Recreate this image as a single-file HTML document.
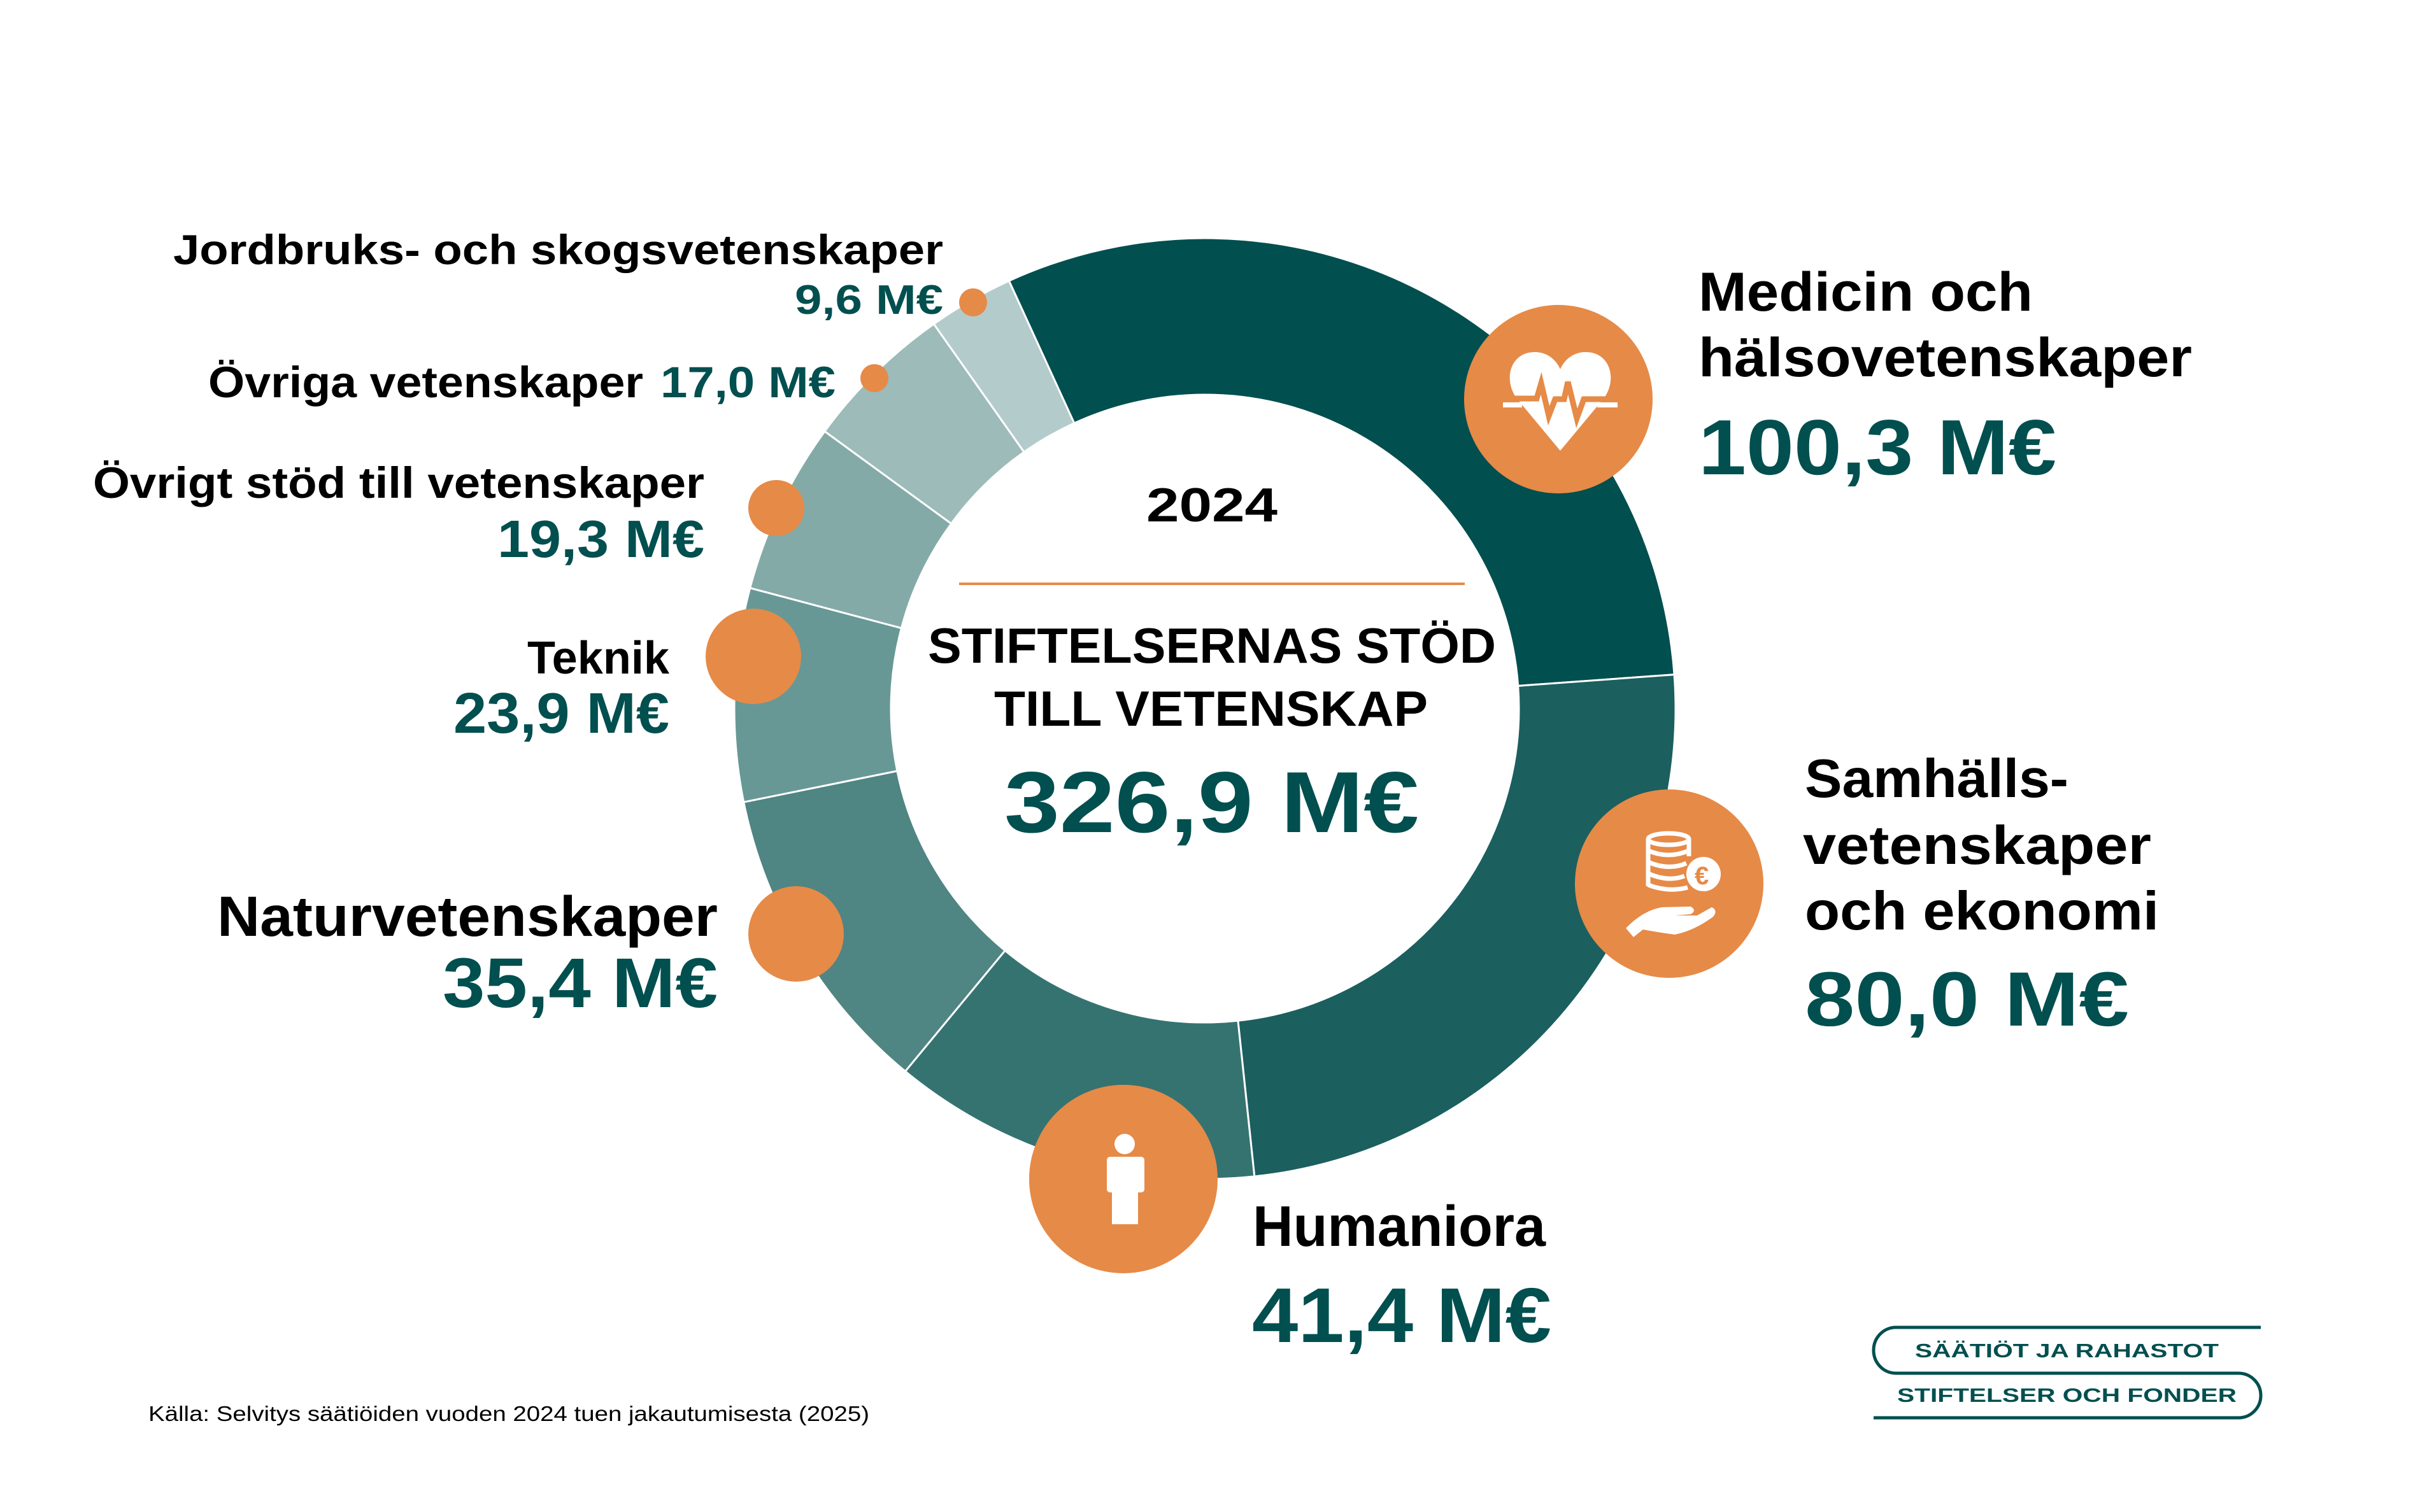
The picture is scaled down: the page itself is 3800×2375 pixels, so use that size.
<!DOCTYPE html>
<html><head><meta charset="utf-8"><style>
html,body{margin:0;padding:0;background:#fff}
svg{display:block}
text{font-family:"Liberation Sans",sans-serif;font-weight:bold}
.k{fill:#000}.t{fill:#024f4f}
</style></head><body>
<svg id="s" width="3800" height="2375" viewBox="0 0 3800 2375" xmlns="http://www.w3.org/2000/svg">
<rect width="3800" height="2375" fill="#fff"/>
<g id="donut"></g>
<!-- center -->
<text class="k" x="1800" y="819" font-size="75" textLength="206" lengthAdjust="spacingAndGlyphs">2024</text>
<line x1="1506" y1="917" x2="2300" y2="917" stroke="#e68a47" stroke-width="4"/>
<text class="k" x="1457" y="1041" font-size="78" textLength="892" lengthAdjust="spacingAndGlyphs">STIFTELSERNAS STÖD</text>
<text class="k" x="1561" y="1140" font-size="78" textLength="681" lengthAdjust="spacingAndGlyphs">TILL VETENSKAP</text>
<text class="t" x="1577" y="1307" font-size="136" textLength="651" lengthAdjust="spacingAndGlyphs">326,9 M€</text>
<!-- orange circles -->
<g fill="#e68a47">
<circle cx="2447" cy="627" r="148"/>
<circle cx="2621" cy="1388" r="148"/>
<circle cx="1764" cy="1852" r="148"/>
<circle cx="1250" cy="1467" r="75"/>
<circle cx="1183" cy="1031" r="75"/>
<circle cx="1219" cy="798" r="44"/>
<circle cx="1373" cy="594" r="22"/>
<circle cx="1528" cy="475" r="22"/>
</g>
<!-- heart icon -->
<path d="M2450 708 L2381 625 C2360 595 2372 553 2410 553 C2432 553 2445 568 2450 580 C2455 568 2468 553 2490 553 C2528 553 2540 595 2519 625 Z" fill="#fff"/>
<polyline points="2372,626 2413,626 2420,602 2432,653 2442,627 2456,627 2462,600 2476,657 2487,627 2528,627" fill="none" stroke="#e68a47" stroke-width="9"/>
<rect x="2360" y="632" width="30" height="8" fill="#fff"/>
<rect x="2508" y="632" width="32" height="8" fill="#fff"/>
<!-- coins icon -->
<g fill="none" stroke="#fff" stroke-width="7">
<ellipse cx="2620" cy="1318" rx="32" ry="9"/>
<path d="M2588 1318 V1392 M2652 1318 V1345 M2588 1336 Q2620 1350 2652 1336 M2588 1354 Q2620 1368 2648 1356 M2588 1372 Q2620 1386 2645 1376 M2588 1390 Q2620 1402 2650 1394"/>
</g>
<circle cx="2675" cy="1373" r="27" fill="#fff"/>
<text x="2661" y="1389" font-size="40" fill="#e68a47">€</text>
<path d="M2553 1458 Q2580 1430 2610 1425 L2655 1424 Q2665 1430 2655 1436 L2630 1438 L2665 1438 L2688 1425 Q2698 1430 2690 1440 Q2660 1462 2630 1468 Q2600 1464 2580 1460 L2565 1472 Z" fill="#fff"/>
<!-- person icon -->
<circle cx="1766" cy="1797" r="16" fill="#fff"/>
<rect x="1738" y="1817" width="59" height="56" rx="5" fill="#fff"/>
<rect x="1746" y="1840" width="41" height="83" fill="#fff"/>
<!-- left labels -->
<text class="k" x="272" y="415" font-size="66" textLength="1209" lengthAdjust="spacingAndGlyphs">Jordbruks- och skogsvetenskaper</text>
<text class="t" x="1248" y="493" font-size="65" textLength="233" lengthAdjust="spacingAndGlyphs">9,6 M€</text>
<text class="k" x="327" y="624" font-size="69" textLength="683" lengthAdjust="spacingAndGlyphs">Övriga vetenskaper</text>
<text class="t" x="1037" y="624" font-size="69" textLength="275" lengthAdjust="spacingAndGlyphs">17,0 M€</text>
<text class="k" x="146" y="782" font-size="69" textLength="960" lengthAdjust="spacingAndGlyphs">Övrigt stöd till vetenskaper</text>
<text class="t" x="781" y="875" font-size="83" textLength="325" lengthAdjust="spacingAndGlyphs">19,3 M€</text>
<text class="k" x="828" y="1058" font-size="72" textLength="223" lengthAdjust="spacingAndGlyphs">Teknik</text>
<text class="t" x="712" y="1151" font-size="90" textLength="339" lengthAdjust="spacingAndGlyphs">23,9 M€</text>
<text class="k" x="341" y="1470" font-size="89" textLength="786" lengthAdjust="spacingAndGlyphs">Naturvetenskaper</text>
<text class="t" x="695" y="1582" font-size="110" textLength="432" lengthAdjust="spacingAndGlyphs">35,4 M€</text>
<!-- right labels -->
<text class="k" x="2667" y="488" font-size="86" textLength="525" lengthAdjust="spacingAndGlyphs">Medicin och</text>
<text class="k" x="2667" y="591" font-size="86" textLength="775" lengthAdjust="spacingAndGlyphs">hälsovetenskaper</text>
<text class="t" x="2667" y="745" font-size="123" textLength="562" lengthAdjust="spacingAndGlyphs">100,3 M€</text>
<text class="k" x="2834" y="1252" font-size="85" textLength="414" lengthAdjust="spacingAndGlyphs">Samhälls-</text>
<text class="k" x="2831" y="1357" font-size="85" textLength="547" lengthAdjust="spacingAndGlyphs">vetenskaper</text>
<text class="k" x="2834" y="1460" font-size="85" textLength="556" lengthAdjust="spacingAndGlyphs">och ekonomi</text>
<text class="t" x="2834" y="1611" font-size="121" textLength="509" lengthAdjust="spacingAndGlyphs">80,0 M€</text>
<text class="k" x="1967" y="1957" font-size="90" textLength="460" lengthAdjust="spacingAndGlyphs">Humaniora</text>
<text class="t" x="1966" y="2108" font-size="122" textLength="470" lengthAdjust="spacingAndGlyphs">41,4 M€</text>
<!-- source -->
<text x="233" y="2232" font-size="33" style="font-weight:normal" fill="#000" textLength="1132" lengthAdjust="spacingAndGlyphs">Källa: Selvitys säätiöiden vuoden 2024 tuen jakautumisesta (2025)</text>
<!-- logo -->
<g fill="none" stroke="#024f4f" stroke-width="5">
<path d="M3550 2085 H2977 A35 36 0 0 0 2977 2157 H3515 A35 35 0 0 1 3515 2227 H2942"/>
</g>
<text x="3007" y="2132" font-size="31" fill="#024f4f" textLength="477" lengthAdjust="spacingAndGlyphs">SÄÄTIÖT JA RAHASTOT</text>
<text x="2979" y="2202" font-size="31" fill="#024f4f" textLength="533" lengthAdjust="spacingAndGlyphs">STIFTELSER OCH FONDER</text>
</svg>
<script>
(function(){
var cx=1892,cy=1113,R=739,r=493;
var vals=[100.3,80.0,41.4,35.4,23.9,19.3,17.0,9.6];
var cols=["#024f4f","#1b5f5f","#357371","#4f8583","#679896","#84aaa8","#9cbbb9","#b3cccb"];
var tot=326.9,a=-24.6,g=document.getElementById("donut"),ns="http://www.w3.org/2000/svg";
function pt(rad,deg){var t=deg*Math.PI/180;return [cx+rad*Math.sin(t),cy-rad*Math.cos(t)];}
for(var i=0;i<vals.length;i++){
 var b=a+vals[i]/tot*360,l=(b-a)>180?1:0;
 var p1=pt(R,a),p2=pt(R,b),p3=pt(r,b),p4=pt(r,a);
 var d="M"+p1+" A"+R+" "+R+" 0 "+l+" 1 "+p2+" L"+p3+" A"+r+" "+r+" 0 "+l+" 0 "+p4+" Z";
 var p=document.createElementNS(ns,"path");p.setAttribute("d",d);p.setAttribute("fill",cols[i]);
 p.setAttribute("stroke","#fff");p.setAttribute("stroke-width","3");g.appendChild(p);a=b;}
})();
</script>
</body></html>
